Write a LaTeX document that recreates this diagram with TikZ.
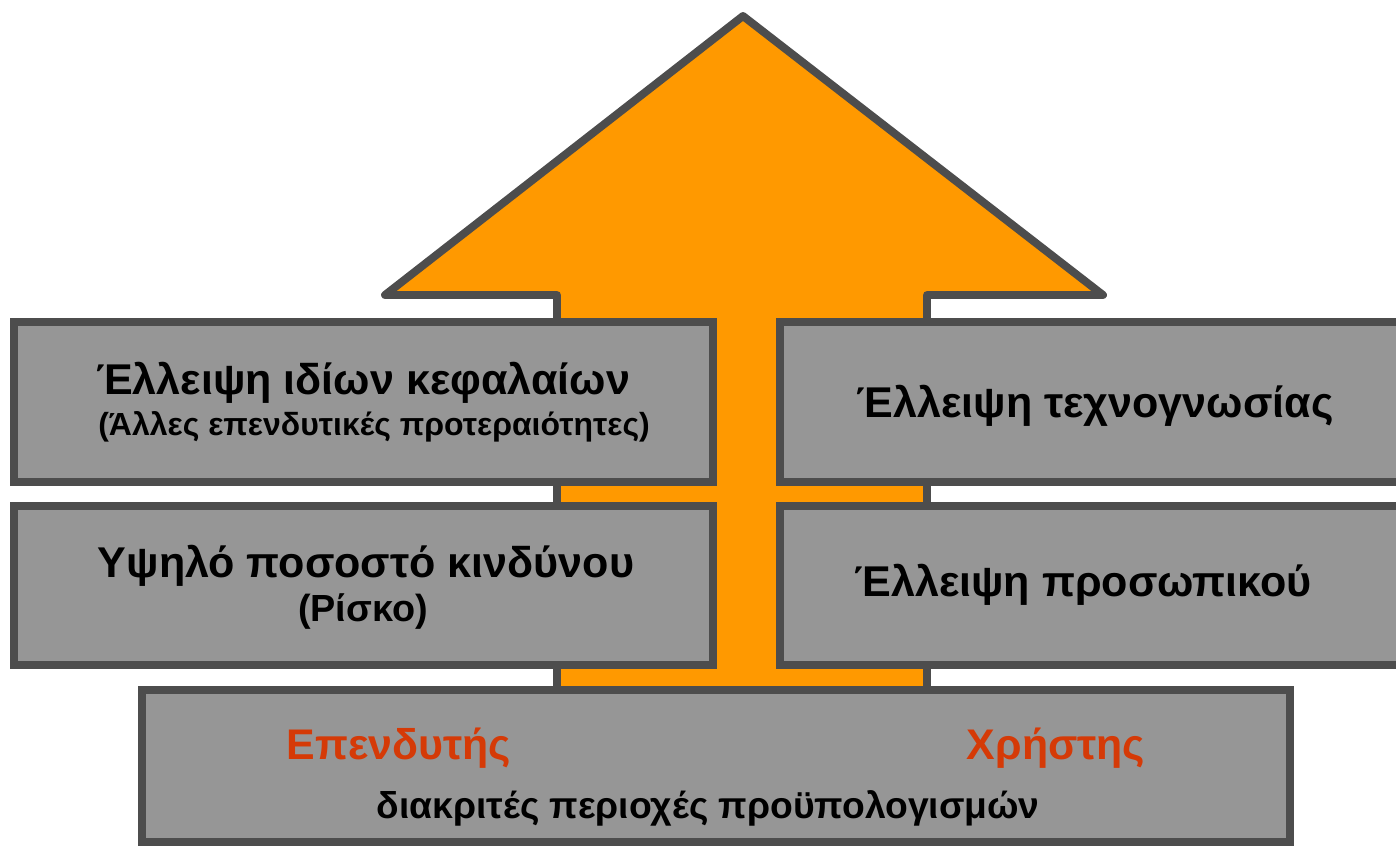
\documentclass[tikz,border=0pt]{standalone}
\usepackage{fontspec}
\setmainfont{Liberation Sans}
\definecolor{edge}{HTML}{4D4D4D}
\definecolor{boxfill}{HTML}{969696}
\definecolor{arrowfill}{HTML}{FF9900}
\definecolor{redtxt}{HTML}{D53A07}
\begin{document}
\begin{tikzpicture}[x=0.02cm,y=-0.02cm,
  panel/.style={draw=edge,fill=boxfill,line width=4.5pt},
  big/.style={font=\fontsize{24.5}{29}\selectfont\bfseries},
  small/.style={font=\fontsize{18.2}{22}\selectfont\bfseries},
  redlbl/.style={font=\fontsize{24.4}{29}\selectfont\bfseries,text=redtxt}]
\useasboundingbox (0,0) rectangle (1396,846);
\begin{scope}
\clip (0,0) rectangle (1396,846);
% arrow
\draw[draw=edge,fill=arrowfill,line width=4.5pt,line join=round]
  (743,16) -- (1103,295) -- (927,295) -- (927,700) -- (557,700) -- (557,295) -- (385,295) -- cycle;
% boxes
\draw[panel] (14,322) rectangle (713,482);
\draw[panel] (780,322) rectangle (1420,482);
\draw[panel] (14,506) rectangle (713,665);
\draw[panel] (780,506) rectangle (1420,665);
\draw[panel] (142,690) rectangle (1290,842);
\end{scope}
\node[big] (t1) at (363,383) {Έλλειψη ιδίων κεφαλαίων};
\node[small] (t1b) at (374,427) {(Άλλες επενδυτικές προτεραιότητες)};
\node[big] (t2) at (1095,406) {Έλλειψη τεχνογνωσίας};
\node[big] (t3) at (366,566) {Υψηλό ποσοστό κινδύνου};
\node[font=\fontsize{21.5}{26}\selectfont\bfseries] (t3b) at (363,611) {(Ρίσκο)};
\node[big] (t4) at (1083,585) {Έλλειψη προσωπικού};
\node[redlbl] (r1) at (399,748) {Επενδυτής};
\node[redlbl] (r2) at (1056,748) {Χρήστης};
\node[font=\fontsize{21.2}{25}\selectfont\bfseries] (b1) at (708,808) {διακριτές περιοχές προϋπολογισμών};
\end{tikzpicture}
\end{document}
